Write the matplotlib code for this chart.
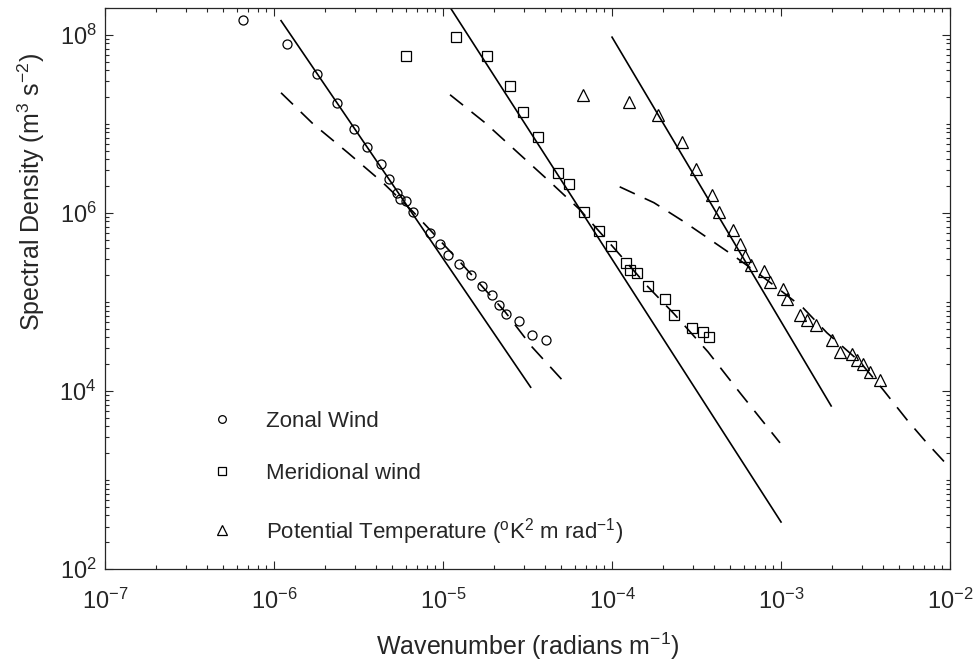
import numpy as np
import matplotlib
matplotlib.use('Agg')
import matplotlib.pyplot as plt
from matplotlib.ticker import LogLocator, NullFormatter

plt.rcParams['font.family'] = ['Liberation Sans', 'DejaVu Sans']
plt.rcParams['mathtext.fontset'] = 'custom'
plt.rcParams['mathtext.rm'] = 'Liberation Sans'
plt.rcParams['mathtext.it'] = 'Liberation Sans:italic'
plt.rcParams['mathtext.bf'] = 'Liberation Sans:bold'
plt.rcParams['axes.unicode_minus'] = False

# zonal wind spectrum (m^3 s^-2) against wavenumber (rad m^-1)
zonal_k = [6.53e-7, 1.19e-6, 1.79e-6, 2.36e-6, 2.97e-6, 3.54e-6, 4.28e-6, 4.81e-6,
           5.32e-6, 5.57e-6, 6.04e-6, 6.68e-6, 8.43e-6, 9.53e-6, 1.07e-5, 1.25e-5,
           1.47e-5, 1.70e-5, 1.94e-5, 2.13e-5, 2.36e-5, 2.82e-5, 3.34e-5, 4.05e-5]
zonal_s = [1.45e8, 7.78e7, 3.58e7, 1.73e7, 8.85e6, 5.47e6, 3.56e6, 2.39e6,
           1.66e6, 1.43e6, 1.37e6, 1.02e6, 6.0e5, 4.43e5, 3.37e5, 2.67e5,
           2.0e5, 1.49e5, 1.18e5, 9.25e4, 7.33e4, 6.12e4, 4.23e4, 3.74e4]

# meridional wind spectrum
merid_k = [6.04e-6, 1.19e-5, 1.82e-5, 2.49e-5, 2.96e-5, 3.65e-5, 4.79e-5, 5.57e-5,
           6.87e-5, 8.38e-5, 9.80e-5, 1.21e-4, 1.28e-4, 1.40e-4, 1.63e-4, 2.05e-4,
           2.33e-4, 2.99e-4, 3.45e-4, 3.75e-4]
merid_s = [5.81e7, 9.42e7, 5.81e7, 2.67e7, 1.36e7, 7.05e6, 2.79e6, 2.10e6,
           1.01e6, 6.31e5, 4.26e5, 2.74e5, 2.26e5, 2.09e5, 1.49e5, 1.07e5,
           7.14e4, 5.06e4, 4.64e4, 4.07e4]

# potential temperature spectrum
theta_k = [6.71e-5, 1.26e-4, 1.86e-4, 2.59e-4, 3.12e-4, 3.92e-4, 4.32e-4, 5.18e-4,
           5.72e-4, 6.12e-4, 6.60e-4, 7.98e-4, 8.55e-4, 1.03e-3, 1.09e-3, 1.29e-3,
           1.42e-3, 1.61e-3, 2.00e-3, 2.23e-3, 2.62e-3, 2.80e-3, 3.04e-3, 3.36e-3,
           3.85e-3]
theta_s = [2.12e7, 1.78e7, 1.26e7, 6.28e6, 3.12e6, 1.59e6, 1.03e6, 6.44e5,
           4.49e5, 3.24e5, 2.61e5, 2.23e5, 1.66e5, 1.39e5, 1.07e5, 7.14e4,
           6.28e4, 5.52e4, 3.74e4, 2.77e4, 2.61e4, 2.23e4, 2.01e4, 1.65e4,
           1.31e4]

# k^-3 reference lines (end points)
zonal_ref_k = [1.10e-6, 3.30e-5]
zonal_ref_s = [1.44e8, 1.10e4]
merid_ref_k = [1.0e-5, 1.0e-3]
merid_ref_s = [2.7e8, 3.37e2]
theta_ref_k = [1.0e-4, 1.98e-3]
theta_ref_s = [9.4e7, 6.78e3]

# fitted spectra (dashed)
zonal_fit_k = [1.10e-6, 1.70e-6, 2.74e-6, 4.42e-6, 6.64e-6, 1.26e-5, 2.33e-5, 3.36e-5, 5.2e-5]
zonal_fit_s = [2.23e7, 1.0e7, 4.72e6, 2.17e6, 1.03e6, 2.81e5, 7.73e4, 3.12e4, 1.26e4]
merid_fit_k = [1.10e-5, 1.77e-5, 2.78e-5, 4.36e-5, 6.47e-5, 1.0e-4, 1.63e-4, 2.33e-4,
               3.70e-4, 5.72e-4, 9.86e-4]
merid_fit_s = [2.12e7, 1.03e7, 4.72e6, 2.17e6, 1.08e6, 4.26e5, 1.48e5, 7.33e4,
               2.74e4, 9.5e3, 2.61e3]
theta_fit_k = [1.11e-4, 1.77e-4, 2.67e-4, 3.75e-4, 5.35e-4, 7.52e-4, 9.86e-4, 1.35e-3,
               1.87e-3, 2.93e-3, 4.02e-3, 5.57e-3, 7.21e-3, 9.73e-3]
theta_fit_s = [1.96e6, 1.30e6, 7.93e5, 5.1e5, 3.21e5, 2.01e5, 1.36e5, 8.57e4,
               4.49e4, 2.12e4, 1.03e4, 4.72e3, 2.67e3, 1.44e3]

fig = plt.figure(figsize=(9.78, 6.64), dpi=100)
ax = fig.add_axes([0.1074, 0.1431, 0.8640, 0.8449])

mk = dict(linestyle='none', mfc='none', mec='k', mew=0.9)
h1, = ax.loglog(zonal_k, zonal_s, marker='o', ms=6.5, label='Zonal Wind', **mk)
h2, = ax.loglog(merid_k, merid_s, marker='s', ms=6.5, label='Meridional wind', **mk)
h3, = ax.loglog(theta_k, theta_s, marker='^', ms=8,
                label=r'Potential Temperature ($^{\rm o}$K$^2$ m rad$^{-1}$)', **mk)

for k, s in [(zonal_ref_k, zonal_ref_s), (merid_ref_k, merid_ref_s), (theta_ref_k, theta_ref_s)]:
    ax.loglog(k, s, color='k', lw=1.2)
for k, s in [(zonal_fit_k, zonal_fit_s), (merid_fit_k, merid_fit_s), (theta_fit_k, theta_fit_s)]:
    ax.loglog(k, s, color='k', lw=1.2, linestyle=(0, (10, 6.5)))

ax.set_xlim(1e-7, 1e-2)
ax.set_ylim(1e2, 2e8)

ax.xaxis.set_major_locator(LogLocator(base=10, numticks=12))
ax.xaxis.set_minor_locator(LogLocator(base=10, subs=np.arange(2, 10), numticks=12))
ax.xaxis.set_minor_formatter(NullFormatter())
ax.yaxis.set_major_locator(LogLocator(base=100, numticks=12))
ax.yaxis.set_minor_locator(LogLocator(base=10, subs=np.arange(1, 10), numticks=12))
ax.yaxis.set_minor_formatter(NullFormatter())

gray = '#262626'
for sp in ax.spines.values():
    sp.set_color(gray)
    sp.set_linewidth(0.9)
ax.tick_params(which='both', direction='in', top=True, right=True, colors=gray,
               labelsize=17, width=0.8)
ax.tick_params(which='major', length=6)
ax.tick_params(which='minor', length=3)
ax.tick_params(axis='x', which='major', pad=14)
ax.tick_params(axis='y', which='major', pad=6)

ax.set_xlabel(r'Wavenumber (radians m$^{-1}$)', fontsize=18, color=gray)
ax.set_ylabel(r'Spectral Density (m$^3$ s$^{-2}$)', fontsize=18, color=gray)
ax.xaxis.set_label_coords(0.5, -0.110)
ax.yaxis.set_label_coords(-0.069, 0.672)

leg = ax.legend(handles=[h1, h2, h3], loc='upper left', bbox_to_anchor=(0.102, 0.318),
                frameon=False, fontsize=16, labelspacing=1.42, handlelength=1.0,
                handletextpad=1.45, markerscale=0.85, borderpad=0.4)
for t in leg.get_texts():
    t.set_color(gray)

fig.savefig('out.png', dpi=100)
